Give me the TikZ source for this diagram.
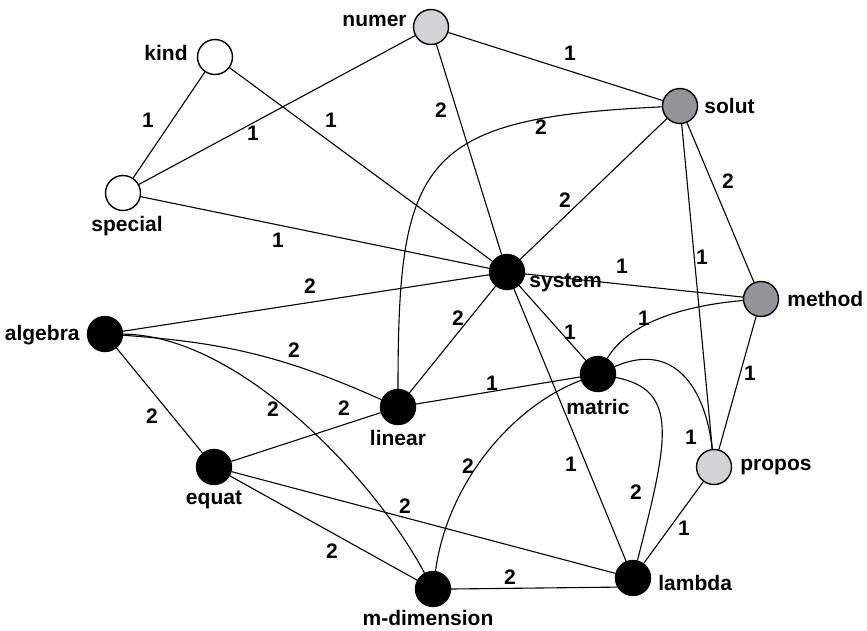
\documentclass[tikz,border=0pt]{standalone}
\usepackage{fontspec}
\setmainfont{Liberation Sans}
\usetikzlibrary{positioning}
\definecolor{paleGray}{RGB}{209,211,212}
\definecolor{darkGray}{RGB}{147,149,152}
\newcommand\Term[4]{%
    \node[term, fill=#4] (#1) at (#2,-#3) {};%
}

\begin{document}
\begin{tikzpicture}[x=1pt, y=1pt,
    term/.style={circle, draw=black, line width=1.4pt, minimum size=35pt, inner sep=0pt},
    word/.style={font=\bfseries\fontsize{21}{24}\selectfont, inner sep=0pt},
    weight/.style={font=\bfseries\fontsize{21}{24}\selectfont, inner sep=0pt},
    link/.style={line width=1.1pt}]
\useasboundingbox (0,0) rectangle (867,-630);
\Term{kind}{215}{57}{white}
\Term{numer}{431}{27}{paleGray}
\Term{special}{123}{193}{white}
\Term{solut}{680}{106}{darkGray}
\Term{system}{507}{272}{black}
\Term{method}{761}{299}{darkGray}
\Term{algebra}{105}{334}{black}
\Term{matric}{598}{374}{black}
\Term{linear}{398}{407}{black}
\Term{propos}{714}{467}{paleGray}
\Term{equat}{214}{467}{black}
\Term{lambda}{633}{578}{black}
\Term{mdim}{433}{589}{black}

\node[word, left=9pt of kind, yshift=4.5pt] (kind-t) {kind};
\node[word, left=6pt of numer, yshift=6pt] (numer-t) {numer};
\node[word, below=5pt of special, xshift=4pt] (special-t) {special};
\node[word, right=6pt of solut] (solut-t) {solut};
\node[word, right=4pt of system, yshift=-11pt] (system-t) {system};
\node[word, right=8pt of method] (method-t) {method};
\node[word, left=7pt of algebra, yshift=-1pt] (algebra-t) {algebra};
\node[word, below=7pt of matric] (matric-t) {matric};
\node[word, below=5pt of linear] (linear-t) {linear};
\node[word, right=8pt of propos] (propos-t) {propos};
\node[word, below=5pt of equat] (equat-t) {equat};
\node[word, right=7pt of lambda, yshift=-4.5pt] (lambda-t) {lambda};
\node[word, below=3pt of mdim, xshift=-5pt] (mdim-t) {m-dimension};

\foreach \a/\b/\w/\x/\y in {kind/special/1/148/120, numer/special/1/253/133,
    kind/system/1/331/120, numer/system/2/441/110, numer/solut/1/570/53,
    solut/system/2/565/200, solut/method/2/728/181, solut/propos/1/702/257,
    special/system/1/278/240, system/method/1/622/266, system/algebra/2/310/286,
    system/linear/2/458/318, system/matric/1/570/332, system/lambda/1/571/464,
    method/propos/1/750/373, algebra/equat/2/152/416, linear/matric/1/492/383,
    equat/linear/2/344/408, equat/lambda/2/405/506, equat/mdim/2/332/551,
    propos/lambda/1/684/528} {
    \draw[link] (\a) -- (\b);
    \node[weight] (w-\a-\b) at (\x,-\y) {\w};
}

\draw[link] (mdim.east) -- (lambda.210);
\node[weight] (w-mdim-lambda) at (510,-577) {2};
\draw[link] (solut) .. controls (420,-118) and (398,-160) .. (linear);
\node[weight] (w-solut-linear) at (541,-127) {2};
\draw[link] (method) .. controls (690,-305) and (630,-320) .. (matric);
\node[weight] (w-method-matric) at (644,-318) {1};
\draw[link] (matric) .. controls (675,-340) and (706,-390) .. (propos);
\node[weight] (w-matric-propos) at (691,-437) {1};
\draw[link] (matric) .. controls (680,-390) and (668,-440) .. (lambda);
\node[weight] (w-matric-lambda) at (636,-492) {2};
\draw[link] (matric) .. controls (515,-405) and (448,-480) .. (mdim);
\node[weight] (w-matric-mdim) at (468,-466) {2};
\draw[link] (algebra) .. controls (240,-335) and (375,-480) .. (mdim);
\node[weight] (w-algebra-mdim) at (273,-409) {2};
\draw[link] (algebra) to[bend left=10] (linear);
\node[weight] (w-algebra-linear) at (294,-350) {2};
\end{tikzpicture}
\end{document}
